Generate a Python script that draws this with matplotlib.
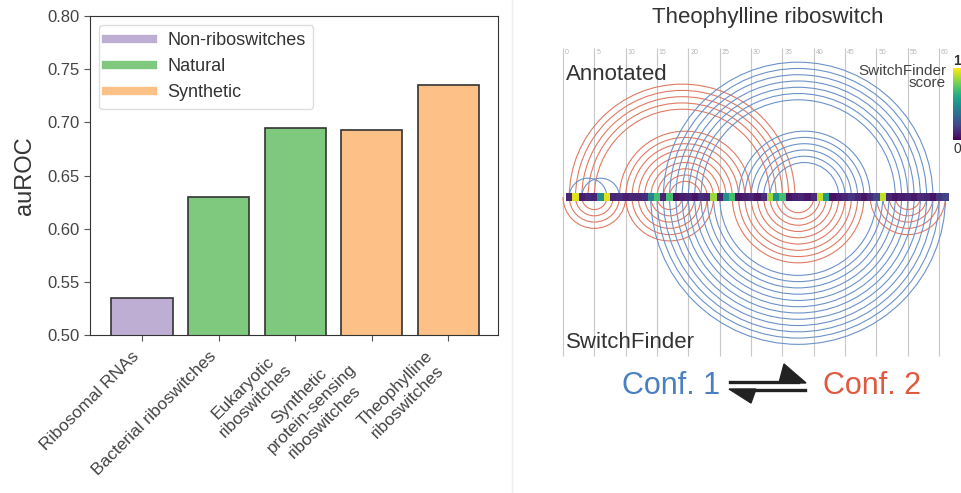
import matplotlib
matplotlib.use("Agg")
import matplotlib.pyplot as plt
import numpy as np
from matplotlib.cm import ScalarMappable
from matplotlib.colors import Normalize
from matplotlib.lines import Line2D
from matplotlib.patches import Arc, Polygon

plt.rcParams["font.family"] = ["Liberation Sans", "DejaVu Sans"]

# --- left panel: auROC per dataset ---
categories = ["Ribosomal RNAs", "Bacterial riboswitches", "Eukaryotic\nriboswitches",
              "Synthetic\nprotein-sensing\nriboswitches", "Theophylline\nriboswitches"]
auroc = [0.535, 0.630, 0.695, 0.693, 0.735]
groups = ["Non-riboswitches", "Natural", "Natural", "Synthetic", "Synthetic"]
group_names = ["Non-riboswitches", "Natural", "Synthetic"]
group_colors = ["#beaed4", "#7fc97f", "#fdc086"]
yticks = [0.50, 0.55, 0.60, 0.65, 0.70, 0.75, 0.80]

# --- right panel: theophylline riboswitch arc diagram ---
# SwitchFinder score per nucleotide (1..61)
sf_score = [0.10, 0.95, 0.08, 0.12, 0.10, 0.50, 0.95, 0.10, 0.12, 0.08,
            0.10, 0.10, 0.12, 0.45, 0.70, 0.10, 0.70, 0.05, 0.08, 0.10,
            0.05, 0.12, 0.10, 0.85, 0.10, 0.50, 0.70, 0.05, 0.08, 0.10,
            0.05, 0.12, 0.85, 0.50, 0.70, 0.05, 0.08, 0.10, 0.06, 0.12,
            0.90, 0.55, 0.05, 0.08, 0.10, 0.15, 0.10, 0.05, 0.12, 0.20,
            0.90, 0.10, 0.05, 0.08, 0.10, 0.06, 0.12, 0.10, 0.05, 0.15, 0.20]
# helices as (5' nt, 3' nt, length)
annot_conf1 = [(1, 7, 1), (3, 9, 1), (16, 59, 7), (28, 49, 6)]
annot_conf2 = [(1, 37, 5), (9, 30, 4), (13, 26, 5)]
pred_conf1 = [(14, 61, 12)]
pred_conf2 = [(0, 10, 4), (10, 24, 6), (27, 48, 9), (49, 61, 5)]
grid_pos = list(range(0, 61, 5))

W, H = 962, 493
fig = plt.figure(figsize=(W / 100, H / 100), dpi=100)


def fx(x):
    return x / W


def fy(y):
    return 1 - y / H


dark = "#333333"
ax = fig.add_axes([fx(90), fy(335), (498 - 90) / W, (335 - 16) / H])
xpos = np.arange(len(categories))
cmap_group = dict(zip(group_names, group_colors))
ax.bar(xpos, auroc, width=0.8, color=[cmap_group[g] for g in groups],
       edgecolor=dark, linewidth=1.2)
ax.set_ylim(0.5, 0.8)
ax.set_xlim(-0.68, 4.65)
ax.set_yticks(yticks)
ax.set_yticklabels([f"{v:.2f}" for v in yticks])
ax.set_xticks(xpos)
ax.set_xticklabels(categories, rotation=45, ha="right", ma="center", fontsize=12.5,
                   linespacing=1.25)
ax.tick_params(axis="y", labelsize=12)
ax.tick_params(axis="x", pad=6)
ax.tick_params(color="#555555", labelcolor="#444444", length=4)
for s in ax.spines.values():
    s.set_color(dark)
ax.set_ylabel("auROC", fontsize=17, color=dark, labelpad=8)
handles = [Line2D([0], [0], color=c, lw=6) for c in group_colors]
ax.legend(handles, group_names, loc="upper left", fontsize=13, handlelength=2.6,
          labelcolor=dark, edgecolor="#dddddd", framealpha=1)

# separator
fig.add_artist(Line2D([fx(512)] * 2, [0, 1], color="#eeeeee", lw=1))

# arc diagram axes, 6.27 px per nucleotide in both directions
PX = 6.27
ax2 = fig.add_axes([fx(540), 0, (W - 540) / W, 1])
ax2.set_xlim((540 - 563) / PX, (W - 563) / PX)
ax2.set_ylim((197 - H) / PX, 197 / PX)
ax2.axis("off")

ax2.vlines(grid_pos, (197 - 356) / PX, (197 - 48) / PX, color="#c8c8c8", lw=0.8, zorder=0)
for p in grid_pos:
    ax2.text(p + 0.3, (197 - 53) / PX, str(p), fontsize=5, color="#b8b8b8", va="center")

blue, red = "#6c92c9", "#e07a63"


def draw_helices(helices, color, upper):
    t1, t2 = (0, 180) if upper else (180, 360)
    for i, j, n in helices:
        for k in range(n):
            a, b = i + k, j - k
            ax2.add_patch(Arc(((a + b) / 2, 0), b - a, b - a, theta1=t1, theta2=t2,
                              color=color, lw=0.8, zorder=2))


draw_helices(annot_conf2, red, True)
draw_helices(annot_conf1, blue, True)
draw_helices(pred_conf2, red, False)
draw_helices(pred_conf1, blue, False)

nt = np.arange(1, len(sf_score) + 1)
ax2.bar(nt, 1.3, bottom=-0.65, width=1.0, color=plt.cm.viridis(sf_score),
        linewidth=0, zorder=3)

fig.text(fx(768), fy(18), "Theophylline riboswitch", ha="center", va="center",
         fontsize=16, color=dark)
fig.text(fx(566), fy(75), "Annotated", ha="left", va="center", fontsize=16, color=dark)
fig.text(fx(566), fy(342), "SwitchFinder", ha="left", va="center", fontsize=16, color=dark)
fig.text(fx(946), fy(77), "SwitchFinder\nscore", ha="right", va="center",
         fontsize=11, color="#444444", linespacing=0.8)

cax = fig.add_axes([fx(953), fy(140), 8 / W, 72 / H])
cb = fig.colorbar(ScalarMappable(norm=Normalize(0, 1), cmap="viridis"), cax=cax, ticks=[])
cb.outline.set_visible(False)
fig.text(fx(957), fy(61), "1", ha="center", va="center", fontsize=10, color=dark,
         fontweight="bold")
fig.text(fx(957), fy(149), "0", ha="center", va="center", fontsize=10, color=dark)

fig.text(fx(720), fy(386), "Conf. 1", ha="right", va="center", fontsize=22, color="#4a7fc1")
fig.text(fx(823), fy(386), "Conf. 2", ha="left", va="center", fontsize=22, color="#e05a3f")
arrow_c = "#222222"
fig.add_artist(Line2D([fx(730), fx(798)], [fy(382)] * 2, color=arrow_c, lw=2.4))
fig.add_artist(Line2D([fx(737), fx(805)], [fy(390)] * 2, color=arrow_c, lw=2.4))
fig.add_artist(Polygon([(fx(806), fy(383)), (fx(784), fy(364)), (fx(779), fy(383))],
                       closed=True, transform=fig.transFigure, color=arrow_c))
fig.add_artist(Polygon([(fx(729), fy(389)), (fx(751), fy(403)), (fx(756), fy(389))],
                       closed=True, transform=fig.transFigure, color=arrow_c))

fig.savefig("out.png", dpi=100)
